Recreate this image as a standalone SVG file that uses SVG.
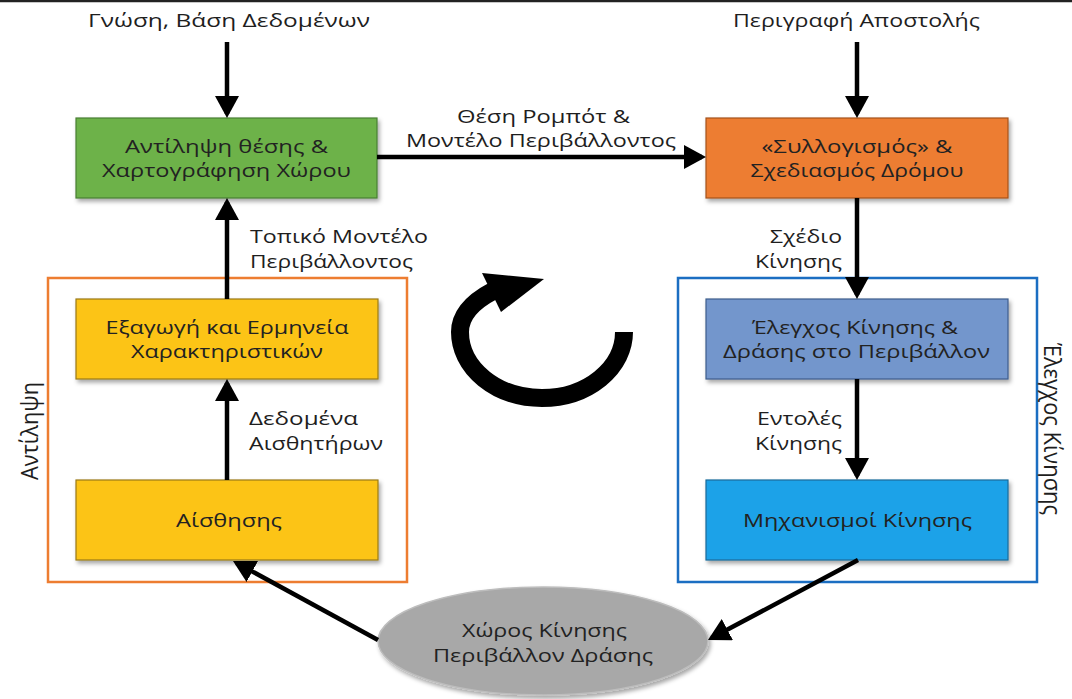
<svg xmlns="http://www.w3.org/2000/svg" width="1072" height="699" viewBox="0 0 1072 699">
  <defs>
    <style>
      text { font-family: "Open Sans", "Noto Sans", "DejaVu Sans", sans-serif; fill: #1e1e1e; }
      .lbl { font-size: 19px; }
      .elbl { font-size: 17.5px; }
      .box-t { font-size: 19px; text-anchor: middle; fill: #222; }
      .side { font-size: 24px; text-anchor: middle; }
      .box { stroke-width: 1.2; filter: url(#shadow); }
      .frame { fill: none; stroke-width: 2.5; }
      .conn { fill: none; stroke: #000; stroke-width: 4.5; marker-end: url(#ah); }
    </style>
    <filter id="shadow" x="-10%" y="-10%" width="125%" height="135%">
      <feDropShadow dx="2" dy="3" stdDeviation="2" flood-color="#000" flood-opacity="0.35"/>
    </filter>
    <marker id="ah" viewBox="0 0 22 24" refX="18" refY="12" markerWidth="22" markerHeight="24" markerUnits="userSpaceOnUse" orient="auto">
      <path d="M0,0 L22,12 L0,24 z" fill="#000"/>
    </marker>
  </defs>

  <rect width="1072" height="699" fill="#fff"/>
  <line x1="0" y1="1" x2="1072" y2="1" stroke="#222" stroke-width="2.5"/>

  <!-- inputs -->
  <g id="input-knowledge">
    <text class="lbl" x="88" y="27" font-size="20" textLength="282" lengthAdjust="spacingAndGlyphs">Γνώση, Βάση Δεδομένων</text>
  </g>
  <g id="input-mission">
    <text class="lbl" x="733" y="27" font-size="20" textLength="247" lengthAdjust="spacingAndGlyphs">Περιγραφή Αποστολής</text>
  </g>

  <!-- group frames -->
  <g id="frame-perception">
    <rect class="frame" x="48" y="278" width="359" height="304" stroke="#ed7d31"/>
    <text class="side" transform="translate(38,431) rotate(-90)" textLength="98" lengthAdjust="spacingAndGlyphs">Αντίληψη</text>
  </g>
  <g id="frame-motion-control">
    <rect class="frame" x="678" y="278" width="359" height="304" stroke="#1b6ec2"/>
    <text class="side" transform="translate(1044,429) rotate(90)" textLength="172" lengthAdjust="spacingAndGlyphs">Έλεγχος Κίνησης</text>
  </g>

  <!-- nodes -->
  <g id="localization">
    <rect class="box" x="76" y="118" width="301" height="80" fill="#6db24a" stroke="#4a7f32"/>
    <text class="box-t" x="226.5" y="153" textLength="203" lengthAdjust="spacingAndGlyphs">Αντίληψη θέσης &amp;</text>
    <text class="box-t" x="226.5" y="177" textLength="249" lengthAdjust="spacingAndGlyphs">Χαρτογράφηση Χώρου</text>
  </g>
  <g id="planning">
    <rect class="box" x="706" y="118" width="302" height="80" fill="#ed7d31" stroke="#a5531c"/>
    <text class="box-t" x="857" y="153" textLength="191" lengthAdjust="spacingAndGlyphs">«Συλλογισμός» &amp;</text>
    <text class="box-t" x="857" y="177" textLength="213" lengthAdjust="spacingAndGlyphs">Σχεδιασμός Δρόμου</text>
  </g>
  <g id="feature-extraction">
    <rect class="box" x="76" y="299" width="302" height="80" fill="#fcc419" stroke="#9a7a14"/>
    <text class="box-t" x="227" y="334" textLength="243" lengthAdjust="spacingAndGlyphs">Εξαγωγή και Ερμηνεία</text>
    <text class="box-t" x="227" y="358" textLength="192" lengthAdjust="spacingAndGlyphs">Χαρακτηριστικών</text>
  </g>
  <g id="sensing">
    <rect class="box" x="76" y="480" width="302" height="80" fill="#fcc419" stroke="#9a7a14"/>
    <text class="box-t" x="229" y="527" textLength="106" lengthAdjust="spacingAndGlyphs">Αίσθησης</text>
  </g>
  <g id="motion-control">
    <rect class="box" x="706" y="299" width="302" height="80" fill="#7396cc" stroke="#3d5d8c"/>
    <text class="box-t" x="855" y="334" textLength="206" lengthAdjust="spacingAndGlyphs">Έλεγχος Κίνησης &amp;</text>
    <text class="box-t" x="856.5" y="358" textLength="267" lengthAdjust="spacingAndGlyphs">Δράσης στο Περιβάλλον</text>
  </g>
  <g id="actuators">
    <rect class="box" x="706" y="480" width="302" height="80" fill="#1ea2e8" stroke="#1a6a9a"/>
    <text class="box-t" x="857.5" y="527" textLength="229" lengthAdjust="spacingAndGlyphs">Μηχανισμοί Κίνησης</text>
  </g>
  <g id="environment">
    <ellipse cx="543" cy="641" rx="165" ry="54" fill="#a8a8a8" stroke="#bdbdbd" stroke-width="1.5" filter="url(#shadow)"/>
    <text class="box-t" x="544.5" y="637" textLength="165" lengthAdjust="spacingAndGlyphs">Χώρος Κίνησης</text>
    <text class="box-t" x="543" y="662" textLength="220" lengthAdjust="spacingAndGlyphs">Περιβάλλον Δράσης</text>
  </g>

  <!-- cycle symbol -->
  <g id="cycle-arrow">
    <path d="M624,332 A82,66 0 0 1 542,398 A82,66 0 0 1 460,332 C460,314 474,301 493,291" fill="none" stroke="#000" stroke-width="18"/>
    <polygon points="482,273 501,312 544,279" fill="#000"/>
  </g>

  <!-- connectors -->
  <g id="connectors">
    <path class="conn" d="M227,42 V114"/>
    <path class="conn" d="M857,42 V114"/>
    <path class="conn" d="M377,157 H702"/>
    <path class="conn" d="M857,198 V295"/>
    <path class="conn" d="M857,379 V476"/>
    <path class="conn" d="M227,480 V383"/>
    <path class="conn" d="M227,299 V202"/>
    <path class="conn" d="M858,560 L711.5,638.1"/>
    <path class="conn" d="M378,640 L236.5,562.9"/>
  </g>

  <!-- connector labels -->
  <g id="connector-labels">
    <text class="lbl" x="457" y="123" textLength="173" lengthAdjust="spacingAndGlyphs">Θέση Ρομπότ &amp;</text>
    <text class="lbl" x="406" y="147" textLength="270" lengthAdjust="spacingAndGlyphs">Μοντέλο Περιβάλλοντος</text>
    <text class="elbl" x="250" y="243" textLength="178" lengthAdjust="spacingAndGlyphs">Τοπικό Μοντέλο</text>
    <text class="elbl" x="250" y="268" textLength="163" lengthAdjust="spacingAndGlyphs">Περιβάλλοντος</text>
    <text class="elbl" x="249" y="425" textLength="109" lengthAdjust="spacingAndGlyphs">Δεδομένα</text>
    <text class="elbl" x="249" y="450" textLength="134" lengthAdjust="spacingAndGlyphs">Αισθητήρων</text>
    <text class="elbl" x="770" y="243" textLength="72" lengthAdjust="spacingAndGlyphs">Σχέδιο</text>
    <text class="elbl" x="755" y="268" textLength="87" lengthAdjust="spacingAndGlyphs">Κίνησης</text>
    <text class="elbl" x="757" y="425" textLength="85" lengthAdjust="spacingAndGlyphs">Εντολές</text>
    <text class="elbl" x="755" y="450" textLength="87" lengthAdjust="spacingAndGlyphs">Κίνησης</text>
  </g>
</svg>
